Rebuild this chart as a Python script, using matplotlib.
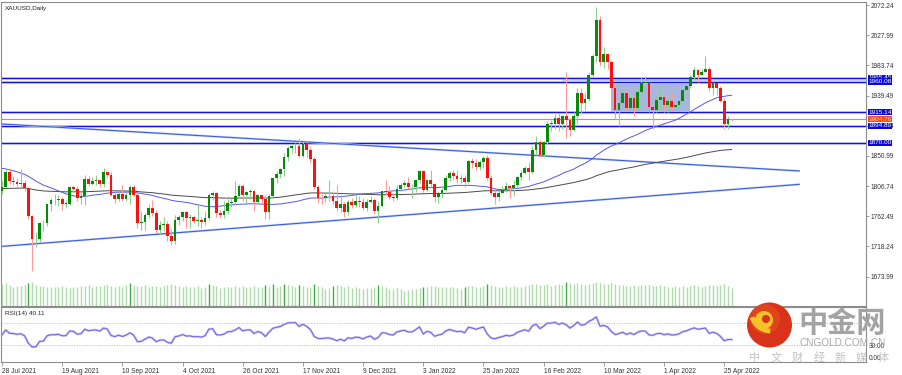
import numpy as np
import pandas as pd
import matplotlib
matplotlib.use("Agg")
import matplotlib.pyplot as plt
from matplotlib.patches import Rectangle, Circle, Arc

# closes before the visible window (Mar - Jul 2021), only used to seed MA / RSI
pre_closes = [
    1715, 1711, 1700, 1683, 1716, 1726, 1722, 1719, 1731, 1731, 1744, 1735, 1745, 1738, 1727, 1734, 1726, 1732, 1712, 1685, 1715,
    1728, 1729, 1728, 1743, 1737, 1756, 1744, 1732, 1733, 1746, 1736, 1764, 1777, 1770, 1779, 1793, 1783, 1776, 1780, 1779, 1763, 1769,
    1792, 1779, 1784, 1815, 1831, 1836, 1837, 1822, 1827, 1844, 1867, 1881, 1868, 1877, 1881, 1898, 1896, 1901, 1904, 1903, 1907,
    1899, 1909, 1871, 1891, 1899, 1893, 1887, 1896, 1877, 1866, 1859, 1813, 1774, 1764, 1782, 1778, 1783, 1777, 1781, 1762, 1770, 1777,
    1787, 1791, 1797, 1803, 1802, 1808, 1806, 1809, 1827, 1829, 1816, 1812, 1794, 1806, 1808, 1801, 1797, 1799,
]

# daily bars 28 Jul 2021 - 27 Apr 2022
highs = [
    1815, 1832, 1832, 1821, 1818, 1832, 1816, 1806, 1765, 1740, 1754, 1757, 1781, 1790, 1795, 1794, 1791, 1787, 1807, 1809,
    1807, 1798, 1823, 1821, 1820, 1823, 1816, 1834, 1828, 1827, 1800, 1800, 1809, 1797, 1809, 1808, 1798, 1770, 1767, 1781,
    1787, 1772, 1755, 1762, 1755, 1744, 1765, 1765, 1770, 1770, 1766, 1765, 1781, 1762, 1770, 1796, 1800, 1798, 1772, 1785,
    1788, 1790, 1814, 1810, 1810, 1800, 1803, 1801, 1795, 1794, 1793, 1795, 1819, 1829, 1834, 1855, 1866, 1868, 1870, 1877,
    1872, 1870, 1865, 1849, 1809, 1795, 1796, 1815, 1800, 1808, 1793, 1784, 1786, 1789, 1793, 1792, 1790, 1788, 1792, 1789,
    1785, 1800, 1815, 1807, 1797, 1808, 1812, 1815, 1820, 1810, 1817, 1831, 1831, 1817, 1830, 1812, 1800, 1804, 1823, 1829,
    1830, 1831, 1823, 1823, 1845, 1848, 1847, 1845, 1851, 1853, 1823, 1801, 1801, 1807, 1813, 1809, 1815, 1822, 1830, 1836,
    1842, 1865, 1880, 1874, 1873, 1902, 1903, 1913, 1914, 1911, 1974, 1907, 1916, 1950, 1951, 1943, 1974, 2001, 2070, 2056,
    2010, 2001, 1991, 1954, 1935, 1949, 1947, 1940, 1939, 1947, 1966, 1966, 1960, 1929, 1939, 1950, 1940, 1937, 1945, 1933,
    1937, 1949, 1957, 1970, 1981, 1979, 1979, 1998, 1981, 1960, 1958, 1954, 1936, 1910, 1907,
]
lows = [
    1795, 1805, 1810, 1808, 1805, 1804, 1799, 1759, 1682, 1718, 1725, 1741, 1749, 1771, 1779, 1777, 1772, 1775, 1779, 1798,
    1785, 1780, 1779, 1807, 1808, 1808, 1805, 1805, 1818, 1792, 1782, 1785, 1785, 1785, 1781, 1792, 1745, 1742, 1742, 1760,
    1763, 1738, 1737, 1741, 1726, 1721, 1722, 1750, 1756, 1746, 1745, 1752, 1749, 1746, 1750, 1757, 1787, 1762, 1760, 1760,
    1766, 1776, 1779, 1790, 1785, 1782, 1788, 1771, 1782, 1781, 1759, 1758, 1790, 1811, 1818, 1822, 1844, 1855, 1855, 1850,
    1850, 1850, 1840, 1802, 1782, 1781, 1784, 1785, 1780, 1770, 1769, 1762, 1765, 1775, 1776, 1776, 1772, 1771, 1782, 1766,
    1753, 1776, 1795, 1788, 1785, 1786, 1800, 1806, 1804, 1789, 1798, 1812, 1798, 1799, 1806, 1783, 1782, 1790, 1800, 1814,
    1815, 1811, 1812, 1805, 1811, 1834, 1831, 1831, 1833, 1816, 1794, 1780, 1785, 1796, 1798, 1789, 1792, 1806, 1816, 1825,
    1815, 1825, 1852, 1849, 1849, 1868, 1887, 1891, 1888, 1891, 1878, 1880, 1887, 1900, 1912, 1919, 1931, 1966, 1988, 1983,
    1980, 1979, 1945, 1906, 1895, 1924, 1917, 1920, 1910, 1918, 1940, 1945, 1915, 1890, 1915, 1917, 1915, 1916, 1917, 1917,
    1920, 1926, 1940, 1950, 1962, 1959, 1970, 1974, 1946, 1940, 1941, 1930, 1891, 1891, 1902,
]
closes = [
    1806, 1828, 1814, 1813, 1810, 1812, 1804, 1763, 1729, 1729, 1752, 1753, 1780, 1786, 1786, 1788, 1781, 1781, 1805, 1803,
    1790, 1792, 1817, 1810, 1814, 1815, 1810, 1827, 1823, 1794, 1788, 1795, 1788, 1794, 1805, 1794, 1753, 1754, 1764, 1774,
    1768, 1743, 1750, 1751, 1734, 1726, 1757, 1761, 1769, 1760, 1761, 1756, 1757, 1754, 1760, 1793, 1796, 1767, 1765, 1770,
    1782, 1784, 1792, 1807, 1793, 1798, 1799, 1783, 1793, 1788, 1769, 1792, 1818, 1825, 1832, 1849, 1863, 1865, 1866, 1851,
    1869, 1860, 1846, 1805, 1790, 1789, 1792, 1792, 1785, 1774, 1781, 1769, 1783, 1779, 1785, 1783, 1775, 1783, 1787, 1770,
    1777, 1799, 1798, 1791, 1789, 1803, 1808, 1811, 1805, 1805, 1815, 1829, 1801, 1815, 1810, 1791, 1797, 1801, 1818, 1826,
    1821, 1817, 1819, 1813, 1843, 1840, 1835, 1842, 1848, 1819, 1797, 1791, 1797, 1801, 1807, 1804, 1808, 1820, 1826, 1833,
    1827, 1859, 1871, 1853, 1871, 1898, 1898, 1906, 1898, 1910, 1903, 1889, 1909, 1943, 1928, 1935, 1970, 1998, 2050, 1988,
    2000, 1988, 1950, 1918, 1928, 1943, 1921, 1936, 1921, 1944, 1958, 1958, 1923, 1919, 1933, 1937, 1925, 1932, 1923, 1925,
    1931, 1947, 1954, 1966, 1977, 1970, 1974, 1979, 1950, 1958, 1951, 1932, 1898, 1905, 1904.76,
]
volumes = [
    92, 95, 90,
    80, 84, 86, 90, 98, 100, 88, 84, 86, 80, 78, 82, 80, 84, 80, 76, 82, 78, 84, 86, 88, 82,
    86, 84, 90, 88, 84, 80, 86, 82, 88, 96, 90, 84, 86, 88, 82, 84, 86, 80, 84, 90, 92, 88,
    86, 80, 84, 82, 78, 84, 76, 80, 92, 90, 86, 74, 78, 82, 80, 84, 82, 86, 80, 78, 84,
    80, 78, 88, 86, 94, 82, 84, 92, 90, 86, 80, 88, 84, 80, 78, 92, 86, 80, 72, 76, 84, 88,
    86, 80, 84, 76, 78, 74, 72, 76, 74, 78, 88, 86, 80, 72, 70, 74, 70, 64, 68, 72, 70, 74,
    80, 82, 86, 84, 80, 78, 82, 80, 78, 76, 70, 80, 86, 84, 82, 80, 84, 92, 90, 86, 82,
    80, 84, 82, 86, 80, 82, 84, 88, 92, 94, 90, 88, 92, 86, 90, 92, 90, 100, 96, 92,
    96, 94, 90, 94, 98, 100, 98, 94, 92, 96, 92, 90, 88, 86, 84, 88, 86, 90, 88, 90, 86, 84, 88,
    84, 80, 82, 84, 80, 84, 82, 86, 88, 84, 80, 84, 88, 90, 86, 88, 92, 86, 74,
]

levels = [1965.45, 1960.08, 1915.14, 1894.89, 1870.00]
bid = 1904.76
price_ticks = [2072.24, 2027.99, 1983.74, 1939.49, 1895.24, 1850.99, 1806.74, 1762.49, 1718.24, 1673.99]
# trend lines: (bar, price) end points
trend_down = [(-0.5, 1898.0), (212.1, 1828.9)]
trend_up = [(-0.5, 1718.2), (212.1, 1809.4)]
# consolidation box and band
box = (162, 183, 1915.14, 1965.45)
band = (149, 1960.08, 1965.45)

dates = pd.bdate_range("2021-07-28", "2022-04-27").drop(pd.Timestamp("2021-12-24"))

plt.rcParams["font.family"] = ["Liberation Sans", "DejaVu Sans"]

all_close = pd.Series(pre_closes + closes, dtype=float)
n_pre = len(pre_closes)
opens = all_close.shift(1).iloc[n_pre:].to_numpy()
ma_fast = all_close.rolling(50).mean().iloc[n_pre:].to_numpy()
ma_slow = all_close.ewm(span=200).mean().iloc[n_pre:].to_numpy()
delta = all_close.diff()
gain = delta.clip(lower=0).ewm(alpha=1 / 14, adjust=False).mean()
loss = (-delta.clip(upper=0)).ewm(alpha=1 / 14, adjust=False).mean()
rsi = (100 - 100 / (1 + gain / loss)).iloc[n_pre:].to_numpy()

o = opens
c = np.array(closes, dtype=float)
h = np.array(highs, dtype=float)
l = np.array(lows, dtype=float)
x = np.arange(len(c))
up = c >= o

W, H = 903, 375
fig = plt.figure(figsize=(W / 100, H / 100), dpi=100)
fig.patch.set_facecolor("white")

left, right = 1.5 / W, 866 / W
ax = fig.add_axes([left, (H - 306) / H, right - left, 304.5 / H])
axv = fig.add_axes([left, (H - 306) / H, right - left, 24 / H], sharex=ax)
axr = fig.add_axes([left, (H - 361.7) / H, right - left, 55 / H], sharex=ax)

frame = "#8c8c8c"
xlim = (-0.13, 229.7)

# main price window
ax.set_xlim(*xlim)
ax.set_ylim(1631.0, 2077.4)
for s in ax.spines.values():
    s.set_color(frame)
    s.set_linewidth(0.8)

ax.add_patch(Rectangle((band[0], band[1]), xlim[1] - band[0], band[2] - band[1],
                       fc="#c9d3f1", ec="none", zorder=1))
ax.add_patch(Rectangle((box[0], box[2]), box[1] - box[0], box[3] - box[2],
                       fc="#a7b8dc", ec="none", zorder=1.5))

for lv in levels:
    ax.axhline(lv, color="#c4ccf4", lw=2.0, zorder=2)
    ax.axhline(lv, color="#1414d2", lw=0.9, zorder=2.1)
ax.axhline(bid, color="#ff7a50", lw=0.8, zorder=2.1)

for tl in (trend_down, trend_up):
    xs, ys = zip(*tl)
    ax.plot(xs, ys, color="#cdd6f7", lw=1.6, zorder=2.2, solid_capstyle="butt")
    ax.plot(xs, ys, color="#3a5ee0", lw=0.8, zorder=2.3, solid_capstyle="butt")

ax.plot(x, ma_slow, color="#4a4a4a", lw=0.7, zorder=3)
ax.plot(x, ma_fast, color="#5656f2", lw=0.7, zorder=3.1)

body_lo = np.minimum(o, c)
body_h = np.maximum(np.abs(c - o), 0.9)
ax.vlines(x[up], l[up], h[up], color="#8fcf8f", lw=0.8, zorder=4)
ax.vlines(x[~up], l[~up], h[~up], color="#ff9a9a", lw=0.8, zorder=4)
ax.bar(x[up], body_h[up], bottom=body_lo[up], width=0.72, color="#078a07", lw=0, zorder=5)
ax.bar(x[~up], body_h[~up], bottom=body_lo[~up], width=0.72, color="#ff1010", lw=0, zorder=5)

ax.yaxis.tick_right()
ax.set_yticks(price_ticks)
ax.set_yticklabels([f"{p:.2f}" for p in price_ticks])
ax.tick_params(axis="y", length=2.5, width=0.6, color=frame, labelsize=4.7,
               labelcolor="#333333", pad=1)
ax.tick_params(axis="x", length=0, labelbottom=False)

ax.text(0.004, 0.985, "XAUUSD,Daily", transform=ax.transAxes, fontsize=4.6,
        color="#202020", va="top", ha="left")

yt = ax.get_yaxis_transform()
for lv in levels:
    ax.text(1.0025, lv, f"{lv:.2f}", transform=yt, fontsize=4.6, color="white",
            va="center", ha="left", clip_on=False, zorder=10,
            bbox=dict(boxstyle="square,pad=0.1", fc="#0a0ad2", ec="none"))
ax.text(1.0025, bid, f"{bid:.2f}", transform=yt, fontsize=4.6, color="#ffd0c0",
        va="center", ha="left", clip_on=False, zorder=10.5,
        bbox=dict(boxstyle="square,pad=0.1", fc="#ff4a14", ec="none"))

# volumes
axv.set_ylim(0, 101)
axv.axis("off")
vol = np.array(volumes, dtype=float)
rise = np.r_[False, vol[1:] > vol[:-1] * 1.08]
axv.vlines(x[~rise], 0, vol[~rise], color="#aedcab", lw=1.0)
axv.vlines(x[rise], 0, vol[rise], color="#3fae3f", lw=1.0)

# RSI window
axr.set_xlim(*xlim)
axr.set_ylim(0, 100)
for s in axr.spines.values():
    s.set_color(frame)
    s.set_linewidth(0.8)
axr.axhline(70, color="#c0c0c0", lw=0.6, ls=(0, (1.5, 1.5)))
axr.axhline(30, color="#c0c0c0", lw=0.6, ls=(0, (1.5, 1.5)))
axr.plot(x, rsi, color="#d6d0f8", lw=1.8)
axr.plot(x, rsi, color="#7764e6", lw=0.8)
axr.text(0.004, 0.93, "RSI(14) 40.11", transform=axr.transAxes, fontsize=4.6,
         color="#202020", va="top", ha="left")
axr.yaxis.tick_right()
axr.set_yticks([30, 0])
axr.set_yticklabels(["30.00", "0.00"])
axr.tick_params(axis="y", length=0, labelsize=4.7, labelcolor="#333333", pad=2)
axr.get_yticklabels()[1].set_va("bottom")

tick_pos = list(range(0, len(c), 16))
tick_lab = [f"{d.day} {d:%b %Y}" for d in dates[::16]]
axr.set_xticks(tick_pos)
axr.set_xticklabels(tick_lab)
axr.tick_params(axis="x", length=3, width=0.6, color=frame, labelsize=4.8,
                labelcolor="#333333", pad=1.5)
for lbl in axr.get_xticklabels():
    lbl.set_ha("left")

# watermark (figure pixel coordinates)
ov = fig.add_axes([0, 0, 1, 1], zorder=20)
ov.set_xlim(0, W)
ov.set_ylim(H, 0)
ov.axis("off")
ov.add_patch(Circle((769.5, 325), 22.5, fc="#d9331a", ec="none"))
ov.add_patch(Circle((765, 319), 15, fc="#e8551f", ec="none", alpha=0.5))
ov.add_patch(Circle((764, 320), 9, fc="#f6c22a", ec="none"))
ov.add_patch(Circle((766, 319), 4, fc="#d9331a", ec="none"))
ov.add_patch(Arc((771, 311), 40, 40, theta1=92, theta2=162, color="#f6c22a", lw=3.5))
ov.text(842.5, 323, "中金网", family=["Noto Sans CJK SC"], fontweight="bold",
        fontsize=21, color="#a3a3a3", ha="center", va="center")
ov.text(842.5, 343.5, "CNGOLD.COM.CN", fontsize=7.2, color="#a9a9a9",
        ha="center", va="center")
for k, ch in enumerate("中文财经新媒体"):
    ov.text(755 + k * 21.3, 357.5, ch, family=["Noto Sans CJK SC"], fontsize=8,
            color="#c2c2c2", ha="center", va="center")

fig.savefig("out.png", dpi=100, facecolor="white")
